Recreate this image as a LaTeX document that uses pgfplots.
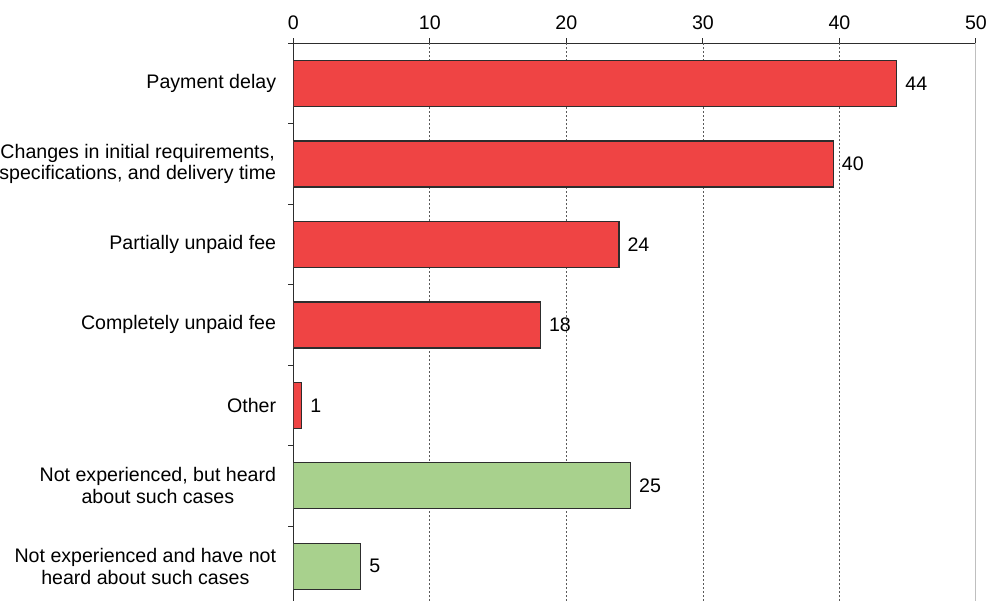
\documentclass[border=0pt]{standalone}
\usepackage{fontspec}
\setmainfont{Liberation Sans}
\usepackage{pgfplots}
\pgfplotsset{compat=1.18}
\definecolor{barred}{RGB}{239,68,68}
\definecolor{bargreen}{RGB}{168,209,141}
\definecolor{edge}{RGB}{45,45,45}
\definecolor{gridc}{RGB}{90,90,90}
\newcommand{\lblfont}{\fontsize{19.6}{21.7}\selectfont}
\begin{document}
\begin{tikzpicture}
\begin{axis}[
  at={(0,0)}, anchor=north west,
  scale only axis, width=682.7pt, height=563.2pt,
  xmin=0, xmax=50, ymin=-0.5, ymax=6.5, y dir=reverse,
  axis x line*=top, axis y line*=left,
  axis line style={draw=edge, line width=1pt},
  xtick={0,10,20,30,40,50},
  extra x ticks={10,20,30,40}, extra x tick labels={},
  extra x tick style={grid=major},
  grid style={draw=gridc, line width=0.8pt, dash pattern=on 2pt off 2pt},
  ytick={-0.5,0.5,1.5,2.5,3.5,4.5,5.5,6.5},
  y tick label as interval,
  yticklabels={{Payment delay},{Changes in initial requirements,\\specifications, and delivery time},{Partially unpaid fee},{Completely unpaid fee},{Other},{Not experienced, but heard\\about such cases},{Not experienced and have not\\heard about such cases}},
  tick align=outside, major tick length=5pt,
  tick style={draw=edge, line width=1pt},
  /pgf/number format/assume math mode=true,
  xticklabel style={font=\lblfont, inner sep=0pt, yshift=8pt},
  yticklabel style={font=\lblfont, align=center, inner sep=0pt, xshift=-12pt},
  nodes near coords style={anchor=west, inner sep=0pt, xshift=8pt, font=\lblfont, text=black},
]
\addplot[xbar, bar width=46pt, bar shift=0pt, fill=barred, draw=edge, line width=1.3pt,
  nodes near coords, point meta=explicit symbolic]
  coordinates {(44.2,0) [44] (39.55,1) [40] (23.85,2) [24] (18.1,3) [18] (0.62,4) [1]};
\addplot[xbar, bar width=46pt, bar shift=0pt, fill=bargreen, draw=edge, line width=1.3pt,
  nodes near coords, point meta=explicit symbolic]
  coordinates {(24.7,5) [25] (4.93,6) [5]};
\draw[black!25, line width=1pt] (axis cs:50,-0.5) -- (axis cs:50,6.5);
\end{axis}
\pgfresetboundingbox
\path[use as bounding box] (-293.3pt,-556.7pt) rectangle (696.7pt,43.3pt);
\end{tikzpicture}
\end{document}
